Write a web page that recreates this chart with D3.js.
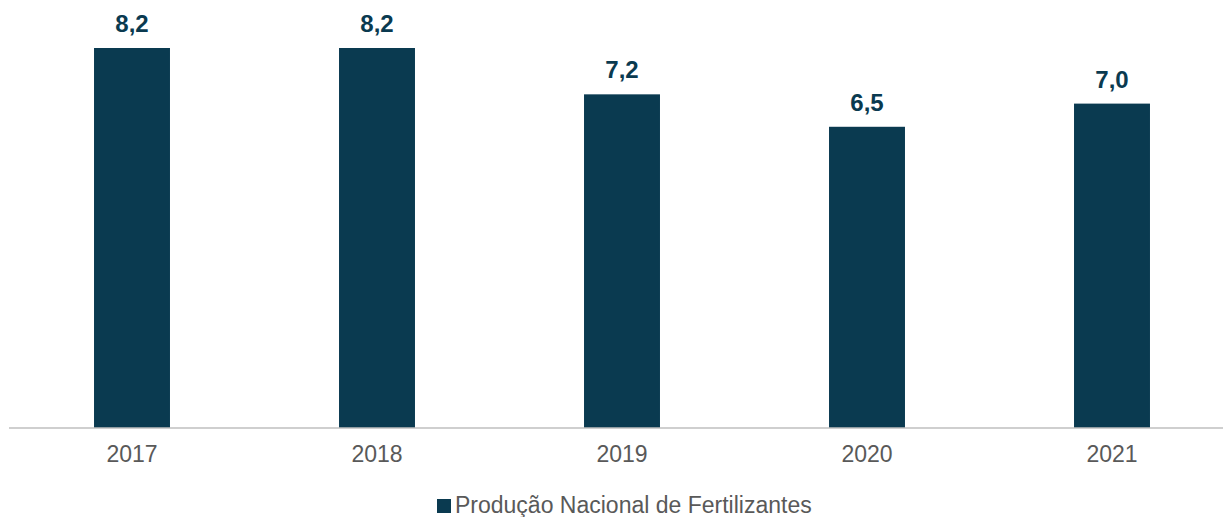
<!DOCTYPE html>
<html><head><meta charset="utf-8">
<script src="https://cdn.jsdelivr.net/npm/d3@7"></script>
<style>body{margin:0;background:#fff;}svg{display:block;font-family:"Liberation Sans",Arial,sans-serif;}</style>
</head><body>
<svg id="c" width="1223" height="517"></svg>
<script>
const categories = ["2017","2018","2019","2020","2021"];
const values = [8.2, 8.2, 7.2, 6.5, 7.0];
const seriesName = "Produção Nacional de Fertilizantes";

const svg = d3.select("#c");
const baseY = 428;
const x = d3.scaleBand().domain(categories).range([9.5, 1234.5]).paddingInner(0.69).paddingOuter(0.345);
const y = d3.scaleLinear().domain([0, 8.2]).range([baseY, 48]);
const color = "#0a3a50";

svg.selectAll("rect.bar").data(values).enter().append("rect")
  .attr("class","bar")
  .attr("x",(d,i)=>x(categories[i]))
  .attr("width",x.bandwidth())
  .attr("y",d=>y(d))
  .attr("height",d=>baseY-y(d))
  .attr("fill",color);

svg.selectAll("text.val").data(values).enter().append("text")
  .attr("x",(d,i)=>x(categories[i])+x.bandwidth()/2)
  .attr("y",d=>y(d)-16)
  .attr("text-anchor","middle")
  .attr("font-size","24px").attr("font-weight","bold")
  .attr("fill",color)
  .text(d=>d.toFixed(1).replace(".",","));

const ax = svg.append("g").attr("transform",`translate(0,${baseY})`)
  .call(d3.axisBottom(x).tickSize(0).tickPadding(18));
ax.select(".domain").attr("stroke","#bfbfbf").attr("stroke-width",1.5).attr("d","M9,0H1223");
ax.selectAll("text").attr("font-size","23px").attr("fill","#595959").attr("font-family","Liberation Sans, Arial, sans-serif");

const lg = svg.append("g");
lg.append("rect").attr("x",437).attr("y",499).attr("width",14).attr("height",14).attr("fill",color);
lg.append("text").attr("x",455).attr("y",513).attr("font-size","23px").attr("fill","#595959").text(seriesName);
</script>
</body></html>
